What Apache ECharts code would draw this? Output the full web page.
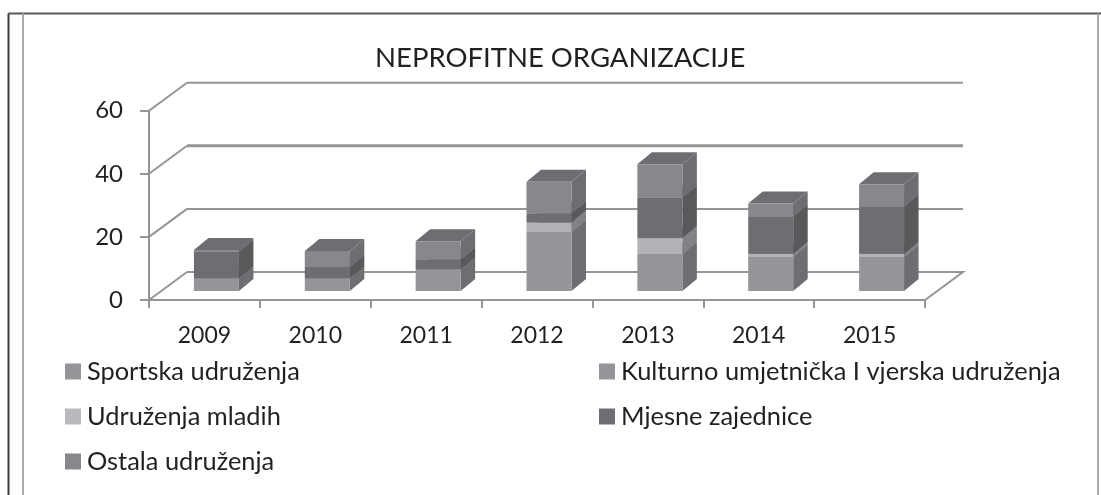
<!DOCTYPE html>
<html lang="hr">
<head>
    <meta charset="UTF-8">
    <title>Neprofitne organizacije</title>
    <script src="https://cdn.jsdelivr.net/npm/echarts@6/dist/echarts.min.js"></script>
    <style>
        html, body { margin: 0; padding: 0; background: #fff; }
        #chart { width: 1101px; height: 495px; }
    </style>
</head>
<body>
<div id="chart"></div>
<script>
    // values
    var years = ['2009', '2010', '2011', '2012', '2013', '2014', '2015'];
    var yTicks = [0, 20, 40, 60];
    var sportska = [4, 4, 6.8, 18.7, 11.7, 10.8, 10.8];
    var kulturno = [0, 0, 0, 0, 0, 0, 0];
    var mladi = [0, 0, 0, 3, 5, 1, 1];
    var mjesne = [8.5, 3.7, 3.2, 2.9, 12.9, 11.9, 15.1];
    var ostala = [0.5, 5, 5.8, 10, 10.6, 4, 6.9];

    var names = ['Sportska udruženja', 'Kulturno umjetnička I vjerska udruženja', 'Udruženja mladih', 'Mjesne zajednice', 'Ostala udruženja'];
    var values = [sportska, kulturno, mladi, mjesne, ostala];
    var front = ['#939598', '#939598', '#b1b3b6', '#6d6e71', '#87888b'];
    var side = ['#6d6e71', '#6d6e71', '#808285', '#58595b', '#6d6e71'];
    var legendColor = ['#939598', '#939598', '#b9babd', '#6d6e71', '#87888b'];

    // 3d look: depth of the wall and of a bar
    var WALL_X = 38, WALL_Y = -28;
    var BAR_X = 12, BAR_Y = -9, BAR_W = 45, DEPTH_X = 14.5, DEPTH_Y = -12;

    function barItem(i) {
        return function (params, api) {
            var cat = api.value(0);
            var p0 = api.coord([cat, api.value(1)]);
            var p1 = api.coord([cat, api.value(2)]);
            if (p0[1] - p1[1] < 0.1) return null;
            var x0 = p0[0] + BAR_X - BAR_W / 2, x1 = x0 + BAR_W;
            var yb = p0[1] + BAR_Y, yt = p1[1] + BAR_Y;
            return {
                type: 'group',
                children: [
                    {type: 'polygon', shape: {points: [[x0, yt], [x1, yt], [x1 + DEPTH_X, yt + DEPTH_Y], [x0 + DEPTH_X, yt + DEPTH_Y]]}, style: {fill: '#6d6e71'}},
                    {type: 'polygon', shape: {points: [[x1, yb], [x1, yt], [x1 + DEPTH_X, yt + DEPTH_Y], [x1 + DEPTH_X, yb + DEPTH_Y]]}, style: {fill: side[i]}},
                    {type: 'rect', shape: {x: x0, y: yt, width: BAR_W, height: yb - yt}, style: {fill: front[i]}}
                ]
            };
        };
    }

    function wallItem(params, api) {
        var v = api.value(0);
        var a = api.coord([0, v]);
        var size = api.size([1, 0]);
        var left = a[0] - size[0] / 2;
        var right = left + size[0] * years.length;
        var backY = a[1] + WALL_Y;
        var floor = [[left + WALL_X, backY], [right + WALL_X, backY]];
        if (v === 0) floor.push([right, a[1]]);
        return {
            type: 'group',
            children: [
                {type: 'line', shape: {x1: left, y1: a[1], x2: left + WALL_X, y2: backY}, style: {stroke: '#939598', lineWidth: 2}},
                {type: 'polyline', shape: {points: floor}, style: {fill: null, stroke: '#939598', lineWidth: v === 40 ? 3 : 2}}
            ]
        };
    }

    var series = [{
        type: 'custom',
        name: 'wall',
        silent: true,
        renderItem: wallItem,
        data: yTicks.map(function (v) { return [v]; }),
        encode: {y: 0},
        z: 1
    }];
    var base = years.map(function () { return 0; });
    names.forEach(function (name, i) {
        var data = years.map(function (y, k) {
            var row = [k, base[k], base[k] + values[i][k]];
            base[k] += values[i][k];
            return row;
        });
        series.push({
            type: 'custom',
            name: name,
            renderItem: barItem(i),
            data: data,
            encode: {x: 0, y: [1, 2]},
            itemStyle: {color: legendColor[i]},
            z: 2
        });
    });

    var legendBase = {
        orient: 'vertical',
        top: 354,
        icon: 'rect',
        itemWidth: 16,
        itemHeight: 16,
        itemGap: 20,
        selectedMode: false,
        textStyle: {fontFamily: 'Lato', fontSize: 25.4, color: '#231f20', padding: [0, 0, 0, 1]}
    };

    var chart = echarts.init(document.getElementById('chart'));
    chart.setOption({
        backgroundColor: '#fff',
        animation: false,
        textStyle: {fontFamily: 'Lato'},
        title: {
            text: 'NEPROFITNE ORGANIZACIJE',
            left: 370,
            top: 39,
            textStyle: {fontFamily: 'Lato', fontSize: 27.5, fontWeight: 'normal', color: '#231f20'}
        },
        grid: {left: 149, top: 110.7, width: 776, height: 189.3},
        xAxis: {
            type: 'category',
            data: years,
            axisLine: {lineStyle: {color: '#939598', width: 2}},
            axisTick: {show: true, alignWithLabel: false, length: 8, lineStyle: {color: '#939598', width: 2}},
            axisLabel: {fontSize: 23, color: '#231f20', margin: 24}
        },
        yAxis: {
            type: 'value',
            min: 0,
            max: 60,
            interval: 20,
            splitLine: {show: false},
            axisLine: {show: true, lineStyle: {color: '#939598', width: 2}},
            axisTick: {show: true, length: 9, lineStyle: {color: '#939598', width: 2}},
            axisLabel: {fontSize: 24, color: '#231f20', margin: 26, padding: [2, 0, 0, 0]}
        },
        legend: [
            Object.assign({}, legendBase, {left: 60, data: [names[0], names[2], names[4]]}),
            Object.assign({}, legendBase, {left: 594, data: [names[1], names[3]]})
        ],
        graphic: [
            {type: 'line', shape: {x1: 8.5, y1: 13.5, x2: 1101, y2: 13.5}, style: {stroke: '#58595b', lineWidth: 2}},
            {type: 'line', shape: {x1: 8.5, y1: 13.5, x2: 8.5, y2: 495}, style: {stroke: '#3a3a3c', lineWidth: 2}},
            {type: 'line', shape: {x1: 23, y1: 13.5, x2: 23, y2: 495}, style: {stroke: '#a7a9ac', lineWidth: 2}},
            {type: 'line', shape: {x1: 1098, y1: 13.5, x2: 1098, y2: 495}, style: {stroke: '#a7a9ac', lineWidth: 2}}
        ],
        series: series
    });
</script>
</body>
</html>
